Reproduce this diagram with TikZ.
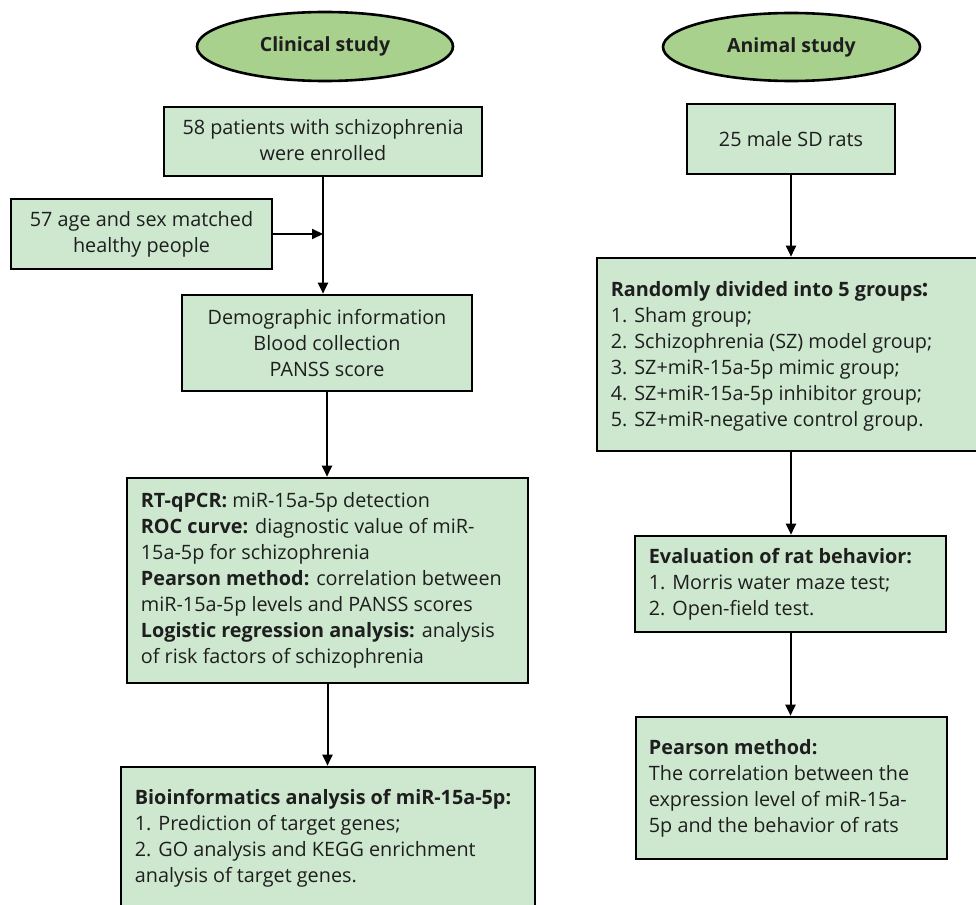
\documentclass[tikz,border=0pt]{standalone}
\usepackage{fontspec}
\setmainfont{Open Sans}
\newfontfamily\cjk{Noto Sans CJK SC}
\usetikzlibrary{arrows.meta,shapes.geometric}
\definecolor{boxfill}{HTML}{CDE8CF}
\definecolor{ellfill}{HTML}{A9D18E}
\definecolor{ink}{HTML}{1E1E1E}
\begin{document}
\begin{tikzpicture}[x=1pt,y=-1pt,
  box/.style={rectangle,draw=black,line width=2.6pt,fill=boxfill,inner sep=0pt},
  ell/.style={ellipse,draw=black,line width=2.6pt,fill=ellfill,inner sep=0pt,text=ink,
    font=\fontsize{19.5}{24}\selectfont\bfseries},
  txt/.style={align=left,inner sep=0pt,text=ink,font=\fontsize{19.8}{26}\selectfont},
  ctxt/.style={align=center,inner sep=0pt,text=ink,font=\fontsize{19.8}{26}\selectfont},
  arr/.style={line width=2pt,draw=black,-{Triangle[length=11pt,width=10pt]}}]
\useasboundingbox (0,0) rectangle (976,904);
\clip (0,0) rectangle (976,904);
\fill[white] (0,0) rectangle (976,904);

% ellipses
\node[ell,minimum width=256,minimum height=69] (clin) at (325,46.5) {Clinical study};
\node[ell,minimum width=257,minimum height=68] (anim) at (791.5,47) {Animal study};

% left column
\node[box,minimum width=318,minimum height=69] (pat) at (323,141.5) {};
\node[ctxt] (patt) at ([yshift=1pt]pat.center) {58 patients with schizophrenia\\were enrolled};
\node[box,minimum width=261,minimum height=70] (hea) at (141.5,234) {};
\node[ctxt] (heat) at (hea.center) {57 age and sex matched\\healthy people};
\node[box,minimum width=290,minimum height=96] (demo) at (327,343) {};
\node[ctxt] (demot) at (demo.center) {Demographic information\\Blood collection\\PANSS score};
\node[box,minimum width=401,minimum height=205] (rt) at (327.5,580.5) {};
\node[txt,anchor=west] (rtt) at ([xshift=15pt]rt.west) {%
\textbf{RT-qPCR:} miR-15a-5p detection\\
\textbf{ROC curve:} diagnostic value of miR-\\
15a-5p for schizophrenia\\
\textbf{Pearson method:} correlation between\\
miR-15a-5p levels and PANSS scores\\
\textbf{Logistic regression analysis:} analysis\\
of risk factors of schizophrenia};
\node[box,minimum width=414,minimum height=142] (bio) at (328,838) {};
\node[txt,anchor=west] (biot) at ([xshift=15pt]bio.west) {%
\textbf{Bioinformatics analysis of miR-15a-5p:}\\
1. Prediction of target genes;\\
2. GO analysis and KEGG enrichment\\
analysis of target genes.};

% right column
\node[box,minimum width=208,minimum height=70] (rats) at (791,139) {};
\node[ctxt] (ratst) at (rats.center) {25 male SD rats};
\node[box,minimum width=388,minimum height=193] (rand) at (791,354.5) {};
\node[txt,anchor=west] (randt) at ([xshift=15pt,yshift=-2pt]rand.west) {%
\textbf{Randomly divided into 5 groups{\cjk\bfseries\kern-2pt：}}\\
1. Sham group;\\
2. Schizophrenia (SZ) model group;\\
3. SZ+miR-15a-5p mimic group;\\
4. SZ+miR-15a-5p inhibitor group;\\
5. SZ+miR-negative control group.};
\node[box,minimum width=311,minimum height=96] (eval) at (790.5,584) {};
\node[txt,anchor=west] (evalt) at ([xshift=15pt]eval.west) {%
\textbf{Evaluation of rat behavior:}\\
1. Morris water maze test;\\
2. Open-field test.};
\node[box,minimum width=311,minimum height=142] (pear) at (791.5,788) {};
\node[txt,anchor=west] (peart) at ([xshift=14pt]pear.west) {%
\textbf{Pearson method:}\\
The correlation between the\\
expression level of miR-15a-\\
5p and the behavior of rats};

% connectors
\coordinate (m) at (pat.south |- hea.east);
\draw[arr] (pat.south) -- (pat.south |- demo.north);
\draw[arr] (hea.east) -- (m);
\draw[arr] (demo.south) -- (demo.south |- rt.north);
\draw[arr] (rt.south) -- (rt.south |- bio.north);
\draw[arr] (rats.south) -- (rats.south |- rand.north);
\draw[arr] (rand.south) -- (rand.south |- eval.north);
\draw[arr] (eval.south) -- (eval.south |- pear.north);
\end{tikzpicture}
\end{document}
